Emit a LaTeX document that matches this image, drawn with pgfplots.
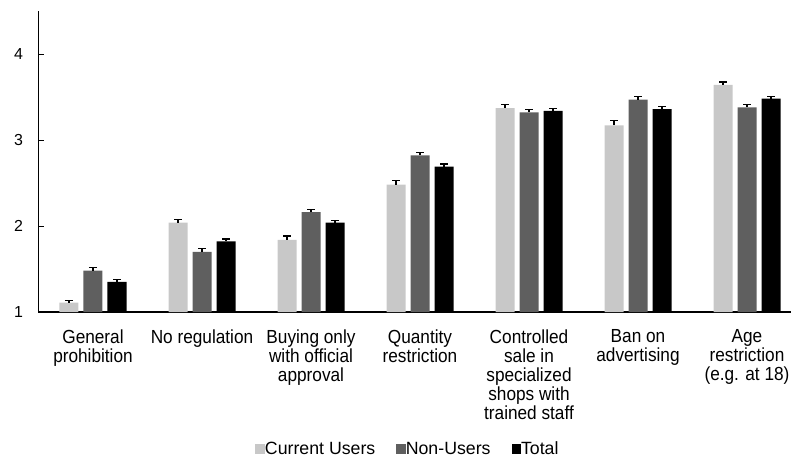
\documentclass[border=0pt]{standalone}
\usepackage{pgfplots}
\pgfplotsset{compat=1.18}
\usetikzlibrary{calc}
\usepackage{fontspec}
\setmainfont{Liberation Sans}
\newfontfamily\lab{Liberation Sans}[FakeStretch=0.91]
\definecolor{cu}{HTML}{C8C8C8}
\definecolor{nu}{HTML}{5F5F5F}
\definecolor{tot}{HTML}{000000}
\begin{document}
\begin{tikzpicture}
\begin{axis}[
  name=ax,
  x=109bp, y=86bp,
  xmin=-0.5, xmax=6.404,
  ymin=1, ymax=4.5,
  ybar=5bp, bar width=19bp,
  axis lines*=left,
  axis line style={line width=1.2bp, black},
  xtick={0,1,2,3,4,5,6},
  xticklabels={General\\prohibition, No regulation, Buying only\\with official\\approval, Quantity\\restriction, Controlled\\sale in\\specialized\\shops with\\trained staff, Ban on\\advertising, Age\\restriction\\(e.g. at 18)},
  xticklabel style={align=center, font=\lab\fontsize{19}{19.2}\selectfont, yshift=-14bp},
  x tick style={draw=none},
  ytick={1,2,3,4},
  yticklabel style={font=\fontsize{16}{18}\selectfont, xshift=-12bp},
  /pgf/number format/assume math mode=true,
  y tick style={black, line width=0.8bp},
  major tick length=5bp,
  tick align=inside,
  legend columns=3,
  legend style={draw=none, at={(0.491,0)}, anchor=center, yshift=-137bp,
    font=\fontsize{17.8}{19}\selectfont,
    /tikz/every even column/.append style={column sep=19bp},
    /tikz/every odd column/.append style={column sep=-2bp}},
  legend image code/.code={\fill[#1] (0bp,-4.5bp) rectangle (9.5bp,5bp);},
  error bars/y dir=plus,
  error bars/y explicit,
  error bars/error bar style={black, line width=1.2bp},
  error bars/error mark options={rotate=90, black, mark size=4bp, line width=1.2bp},
]
\addplot[fill=cu, draw=none] coordinates {
 (0,1.11) +- (0,0.02)
 (1,2.04) +- (0,0.04)
 (2,1.84) +- (0,0.043)
 (3,2.48) +- (0,0.05)
 (4,3.37) +- (0,0.043)
 (5,3.17) +- (0,0.055)
 (6,3.64) +- (0,0.035)
};
\addplot[fill=nu, draw=none] coordinates {
 (0,1.48) +- (0,0.035)
 (1,1.70) +- (0,0.035)
 (2,2.16) +- (0,0.03)
 (3,2.82) +- (0,0.035)
 (4,3.32) +- (0,0.035)
 (5,3.47) +- (0,0.04)
 (6,3.38) +- (0,0.035)
};
\addplot[fill=tot, draw=none] coordinates {
 (0,1.35) +- (0,0.025)
 (1,1.82) +- (0,0.03)
 (2,2.04) +- (0,0.023)
 (3,2.69) +- (0,0.03)
 (4,3.34) +- (0,0.023)
 (5,3.36) +- (0,0.03)
 (6,3.48) +- (0,0.025)
};
\legend{Current Users, Non-Users, Total}
\end{axis}
\pgfresetboundingbox
\path ($(ax.south west)+(-38.5bp,-146bp)$) rectangle ($(ax.south west)+(752.5bp,312bp)$);
\end{tikzpicture}
\end{document}
